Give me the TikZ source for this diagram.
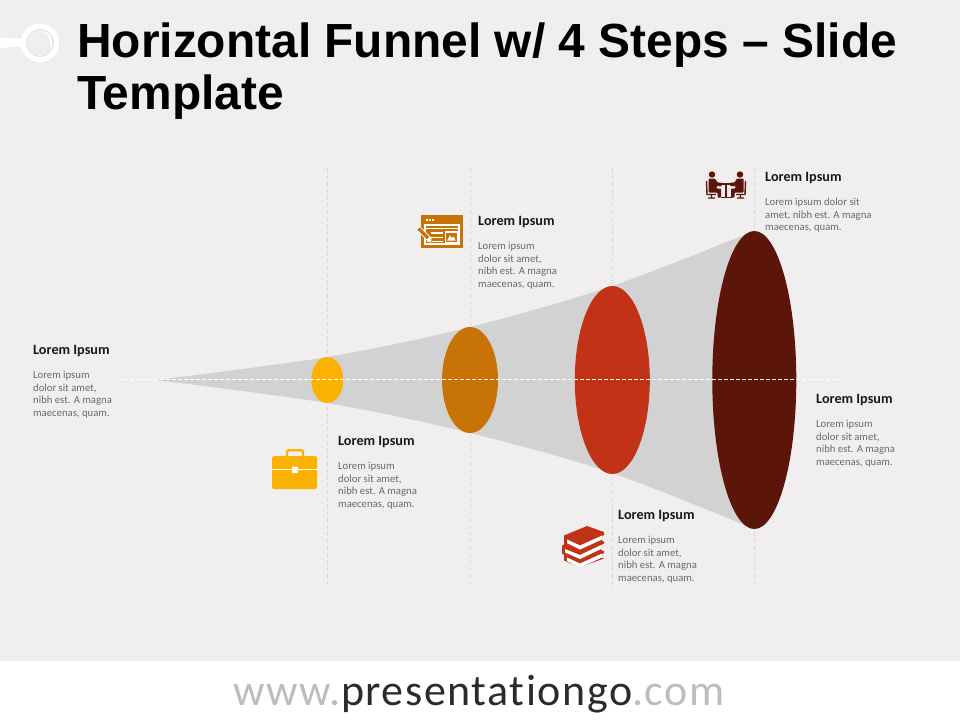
\documentclass[tikz,border=0pt]{standalone}
\usepackage{fontspec}
\setmainfont{Carlito}
\newfontfamily\titlefont{Liberation Sans}
\newfontfamily\footfont[Ligatures=NoCommon,LetterSpace=3.5]{Carlito}
\usetikzlibrary{patterns.meta}
\definecolor{bgc}{HTML}{F0EEEF}
\definecolor{dotc}{HTML}{E0DEDF}
\definecolor{funnelc}{HTML}{D2D2D2}
\definecolor{dashc}{HTML}{D8D8D8}
\definecolor{yel}{HTML}{FBB100}
\definecolor{ora}{HTML}{C87305}
\definecolor{redc}{HTML}{C13216}
\definecolor{dark}{HTML}{5C1509}
\definecolor{bodyc}{HTML}{6A6A6A}
\definecolor{footgray}{HTML}{BDBDBD}
\definecolor{footdark}{HTML}{2B2B2B}
\tikzset{
  heading/.style={anchor=west,inner sep=0pt,font=\fontsize{14.2}{15}\selectfont\bfseries,text=black!90},
  bodytext/.style={anchor=north west,inner sep=0pt,align=left,text=bodyc,font=\fontsize{10.7}{12.6}\selectfont},
  guide/.style={draw=dashc,line width=0.8pt,dash pattern=on 4pt off 3pt},
  axisline/.style={draw=white,line width=0.8pt,dash pattern=on 3.5pt off 2.5pt},
}
\begin{document}
\begin{tikzpicture}[x=1pt,y=-1pt]
\useasboundingbox (0,0) rectangle (960,720);
% background
\fill[bgc] (0,0) rectangle (960,661);
\fill[pattern={Dots[radius=0.6pt,distance=6pt]},pattern color=dotc] (0,0) rectangle (960,170);
\fill[pattern={Dots[radius=0.6pt,distance=6pt]},pattern color=dotc] (0,510) rectangle (960,661);
\fill[white] (0,661) rectangle (960,720);
% loupe
\fill[white] (0,37.5) -- (24,39) -- (24,46) -- (0,48) -- cycle;
\draw[white,line width=5.6pt] (40,43) circle (16.5);
\draw[black!15,line width=0.5pt] (40,43) circle (13.5);
\fill[white] (41,30.5) .. controls (50,31) and (55,40) .. (50,52) .. controls (52,42) and (49,34) .. (41,30.5) -- cycle;
% title
\node[anchor=north west,inner sep=0pt,align=left,font=\titlefont\bfseries\fontsize{47.9}{52}\selectfont,text=black] (title) at (77,23) {Horizontal Funnel w/ 4 Steps – Slide\\Template};
% guides
\foreach \n/\x in {a/327,b/470,c/612,d/754}{
  \coordinate (\n top) at (\x,168);
  \coordinate (\n bot) at (\x,585);
  \draw[guide] (\n top) -- (\n bot);
}
% funnel
\fill[funnelc] plot[smooth,tension=0.55] coordinates {(155,380) (327,357) (470,327) (612,286) (754,231)}
  -- plot[smooth,tension=0.55] coordinates {(754,529) (612,473) (470,433) (327,403) (155,380)} -- cycle;
% discs
\fill[yel] (327.3,380) ellipse [x radius=16,y radius=23];
\fill[ora] (470,380) ellipse [x radius=28,y radius=53];
\fill[redc] (612.3,380) ellipse [x radius=37.5,y radius=94];
\fill[dark] (754.3,380) ellipse [x radius=42,y radius=149];
% axis
\coordinate (axL) at (118,379.5);
\coordinate (axR) at (842,379.5);
\draw[axisline] (axL) -- (axR);
% texts
\foreach \n/\x/\yh/\yb/\t in {
  t1/33/351/371/{Lorem ipsum\\dolor sit amet,\\nibh est. A magna\\maecenas, quam.},
  t2/338/442/462/{Lorem ipsum\\dolor sit amet,\\nibh est. A magna\\maecenas, quam.},
  t3/478/222/242/{Lorem ipsum\\dolor sit amet,\\nibh est. A magna\\maecenas, quam.},
  t4/618/516/536/{Lorem ipsum\\dolor sit amet,\\nibh est. A magna\\maecenas, quam.},
  t5/765/178/198/{Lorem ipsum dolor sit\\amet, nibh est. A magna\\maecenas, quam.},
  t6/816/400/420/{Lorem ipsum\\dolor sit amet,\\nibh est. A magna\\maecenas, quam.}}{
  \node[heading] (\n h) at (\x,\yh) {Lorem Ipsum};
  \node[bodytext] (\n b) at (\x,\yb) {\t};
}
% briefcase icon
\fill[yel,rounded corners=1.5pt] (272,456) rectangle (317,489);
\fill[white] (272,468.7) rectangle (317,469.7);
\draw[yel,line width=2.4pt,rounded corners=2pt] (287,456) -- (287,450.2) -- (303,450.2) -- (303,456);
\fill[white,rounded corners=1pt] (292,466.5) rectangle (298,473);
% browser icon
\fill[ora] (421,215) rectangle (463,248);
\fill[white] (424,224) rectangle (460,245);
\fill[ora] (426,226) rectangle (458,243);
\foreach \y in {233,237.5,241.5}{\fill[white] (431,\y-0.7) rectangle (443,\y+0.7);}
\fill[white] (426,227.5) rectangle (458,229);
\fill[white] (444.5,231) rectangle (458,243);
\fill[ora] (446,232.5) rectangle (456.5,241.5);
\fill[white] (447,240.5) -- (450,235.5) -- (452,238) -- (453.5,236.5) -- (455.5,240.5) -- cycle;
\foreach \x in {426,429,432}{\fill[white] (\x,219) rectangle (\x+1.5,220.5);}
\draw[white,line width=5.2pt] (418.5,228.5) -- (430,240);
\draw[ora,line width=3.4pt] (418.5,228.5) -- (428,238);
\fill[white] (427,241.5) -- (432,242.5) -- (430.5,237) -- cycle;
\fill[ora] (430.5,242) -- (432,242.5) -- (431.7,241) -- cycle;
% books icon
\fill[redc,line join=round] (564,535.5) -- (587,526) -- (604,532) -- (604,535) -- (602,536) -- (602,541) -- (604,541.5) -- (604,543.5) -- (601,545)
  -- (601,550) -- (604,551) -- (604,553) -- (602,554) -- (602,558) -- (604,558.5) -- (580,567) -- (564,560.5) -- (564,554.5) -- (562,553.5) -- (562,545.5) -- (564,544.5) -- cycle;
\foreach \dy/\l/\r in {0/567/602,9.5/565/601,18/567/602}{
  \fill[white] (\l,539.5+\dy) -- (580,545.5+\dy) -- (\r,535.5+\dy) -- (\r,539.5+\dy) -- (580,549.5+\dy) -- (\l,543+\dy) -- cycle;
}
% people icon
\fill[dark] (712,174.5) circle (3.2);
\fill[dark] (740,174.5) circle (3.2);
\fill[dark,rounded corners=0.8pt] (708.5,178.5) -- (715,178.5) -- (717.5,182.5) -- (722,182.5) -- (722,186) -- (716.5,186) -- (716.5,188.5) -- (721,188.5) -- (721,197.5) -- (717.5,197.5) -- (717.5,192.5) -- (708.5,192.5) -- cycle;
\fill[dark,rounded corners=0.8pt] (743.5,178.5) -- (737,178.5) -- (734.5,182.5) -- (730,182.5) -- (730,186) -- (735.5,186) -- (735.5,188.5) -- (731,188.5) -- (731,197.5) -- (734.5,197.5) -- (734.5,192.5) -- (743.5,192.5) -- cycle;
\draw[dark,line width=1.6pt] (717,184) -- (735,184) (726,184) -- (726,197) (720.5,197.5) -- (731.5,197.5);
\draw[dark,line width=1.4pt] (706.5,181) -- (707,194.5) -- (716,194.5) (711.5,194.5) -- (711.5,198) (708,198) -- (715,198);
\draw[dark,line width=1.4pt] (745.5,181) -- (745,194.5) -- (736,194.5) (740.5,194.5) -- (740.5,198) (737,198) -- (744,198);
% footer
\node[anchor=base,inner sep=0pt,font=\footfont\fontsize{44}{46}\selectfont] (foot) at (479,705) {\textcolor{footgray}{www.}\textcolor{footdark}{presentationgo}\textcolor{footgray}{.com}};
\end{tikzpicture}
\end{document}
